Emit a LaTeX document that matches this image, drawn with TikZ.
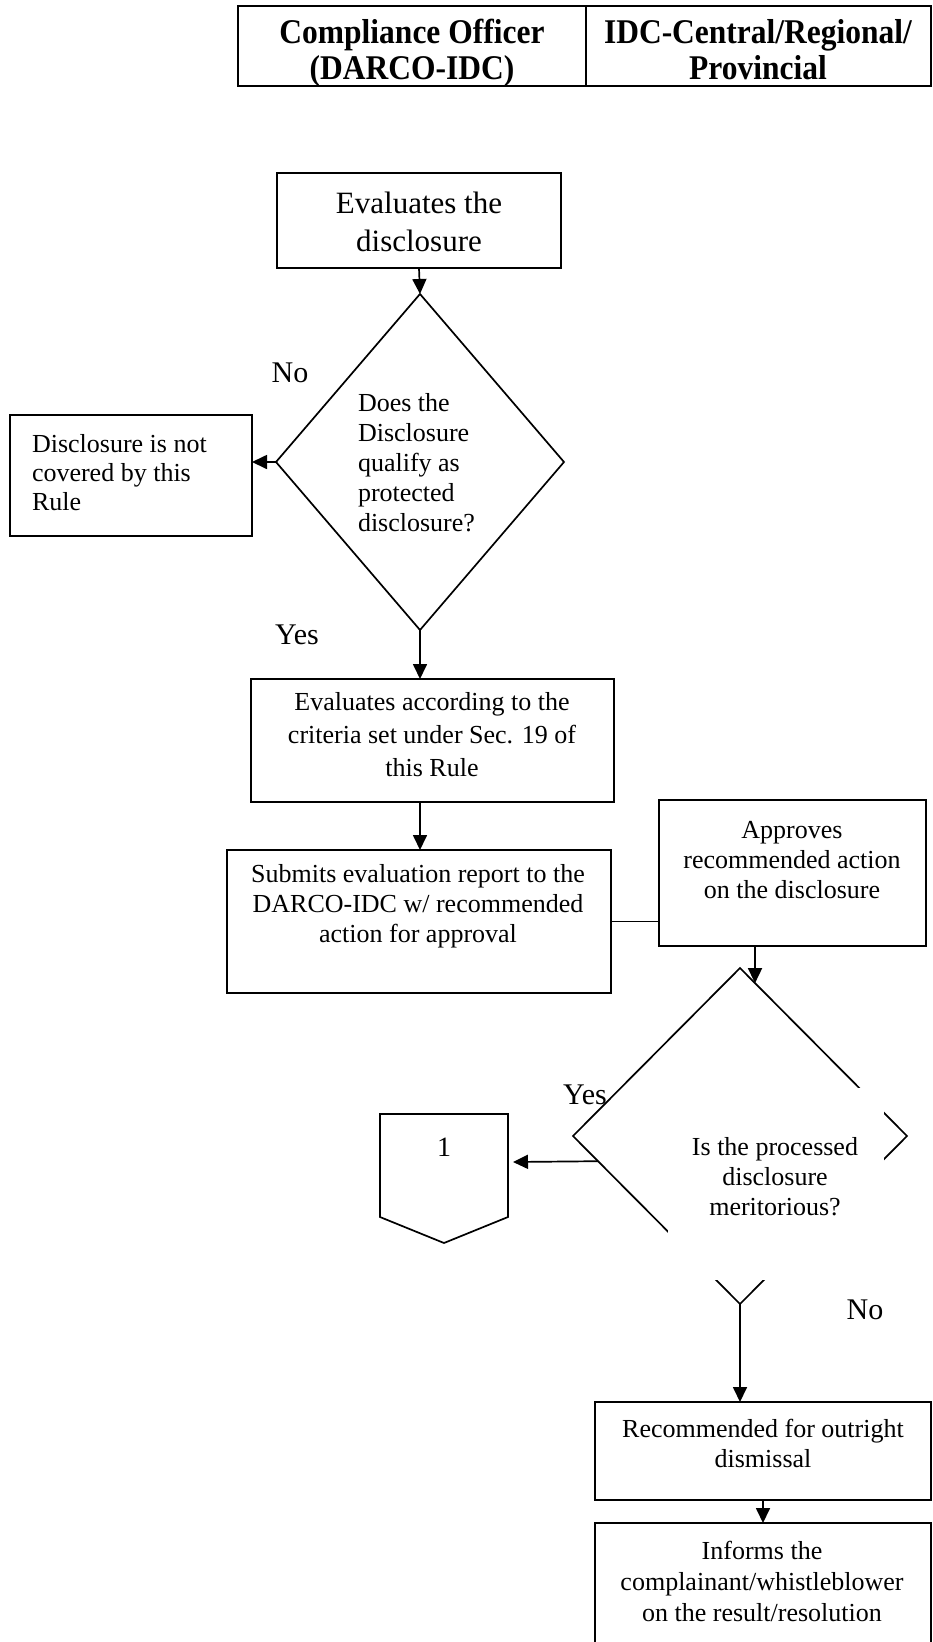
\documentclass[tikz,border=0pt]{standalone}
\usepackage{fontspec}
\setmainfont{Liberation Serif}
\usetikzlibrary{arrows.meta,calc,shapes.geometric,fit}
\newcommand{\tallhdr}[1]{\scalebox{1}[1.1]{#1}}
\begin{document}
\begin{tikzpicture}[x=1pt,y=-1pt,line width=1.7pt,
  every node/.style={inner sep=0pt,outer sep=0pt},
  body/.style={font=\fontsize{26}{30}\selectfont,align=center},
  lbl/.style={font=\fontsize{30}{36}\selectfont},
  hdr/.style={font=\fontsize{31.5}{38}\selectfont\bfseries,anchor=base},
  box/.style={draw,rectangle,inner sep=0pt},
  arr/.style={-{Triangle[length=15pt,width=14pt]}}]
\useasboundingbox (0,0) rectangle (933,1642);
% header
\node[box,fit={(238,6)(586,86)}] (hc1) {};
\node[box,fit={(586,6)(931,86)}] (hc2) {};
\node[hdr] (ht1a) at (412,43) {\tallhdr{Compliance Officer}};
\node[hdr] (ht1b) at (412,79) {\tallhdr{(DARCO-IDC)}};
\node[hdr] (ht2a) at (758,43) {\tallhdr{IDC-Central/Regional/}};
\node[hdr] (ht2b) at (758,79) {\tallhdr{Provincial}};
% box 1
\node[box,fit={(277,173)(561,268)}] (b1) {};
\node[font=\fontsize{31}{38}\selectfont,align=center] (t1) at (419,222) {Evaluates the\\disclosure};
% diamond 1
\node[draw,diamond,minimum width=288pt,minimum height=336pt] (d1) at (420,462) {};
\node[body,align=left,anchor=west] (td1) at (358,463) {Does the\\Disclosure\\qualify as\\protected\\disclosure?};
\draw[arr] (b1.south) -- (d1.north);
\node[lbl] (no1) at (290,373) {No};
% box 2
\node[box,fit={(10,415)(252,536)}] (b2) {};
\node[font=\fontsize{26}{29}\selectfont,align=left,anchor=west] (t2) at (32,473) {Disclosure is not\\covered by this\\Rule};
\draw[arr] (d1.west) -- (d1.west -| b2.east);
% yes 1
\node[lbl] (yes1) at (297,635) {Yes};
% box 3
\node[box,fit={(251,679)(614,802)}] (b3) {};
\node[font=\fontsize{26}{33}\selectfont,align=center] (t3) at (432,735) {Evaluates according to the\\criteria set under Sec. 19 of\\this Rule};
\draw[arr] (d1.south) -- (d1.south |- b3.north);
% box 4
\node[box,fit={(227,850)(611,993)}] (b4) {};
\node[body] (t4) at (418,906) {Submits evaluation report to the\\DARCO-IDC w/ recommended\\action for approval};
\draw[arr] (d1.south |- b3.south) -- (d1.south |- b4.north);
% box 5
\node[box,fit={(659,800)(926,946)}] (b5) {};
\node[body] (t5) at (792,860) {Approves\\recommended action\\on the disclosure};
\draw (b4.east) -- (b4.east -| b5.west);
% diamond 2
\node[draw,diamond,minimum width=334pt,minimum height=336pt] (d2) at (740,1136) {};
\fill[white] (668,1088) rectangle (884,1280);
\node[body] (td2) at (775,1177) {Is the processed\\disclosure\\meritorious?};
\coordinate (a5) at ($(b5.south west)+(96,0)$);
\draw[arr] (a5) -- ($(d2.north)!0.09!(d2.east)$);
\node[lbl] (yes2) at (585,1095) {Yes};
% off-page connector
\draw (380,1114) -- (508,1114) -- (508,1217) -- (444,1243) -- (380,1217) -- cycle;
\node[font=\fontsize{28}{34}\selectfont] (p1) at (444,1147) {1};
\coordinate (pe) at (513,1162);
\draw[arr] ($(d2.west)!0.15!(d2.south)$) -- (pe);
% no 2
\node[lbl] (no2) at (865,1310) {No};
% box 6
\node[box,fit={(595,1402)(931,1500)}] (b6) {};
\node[body] (t6) at (763,1443) {Recommended for outright\\dismissal};
\draw[arr] (d2.south) -- (d2.south |- b6.north);
% box 7
\node[box,fit={(595,1523)(931,1660)}] (b7) {};
\node[font=\fontsize{26}{31}\selectfont,align=center] (t7) at (762,1581) {Informs the\\complainant/whistleblower\\on the result/resolution};
\draw[arr] (b6.south) -- (b6.south |- b7.north);
\end{tikzpicture}
\end{document}
